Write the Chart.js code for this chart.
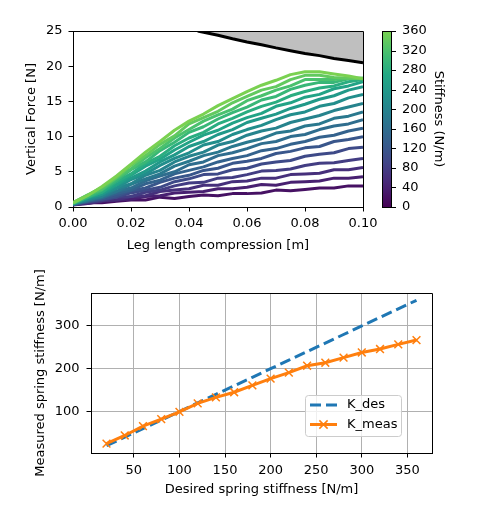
<!DOCTYPE html>
<html><head><meta charset="utf-8">
<script src="https://cdn.jsdelivr.net/npm/chart.js@4/dist/chart.umd.min.js"></script>
<style>
html,body{margin:0;padding:0;background:#fff;width:487px;height:509px;overflow:hidden}
#c1{position:absolute;left:0;top:0}
#c2{position:absolute;left:0;top:260px}
</style></head><body>
<canvas id="c1" width="487" height="260"></canvas>
<canvas id="c2" width="487" height="249"></canvas>
<script>
// ---------- data: top panel ----------
const compression = [0.000,0.005,0.010,0.015,0.020,0.025,0.030,0.035,0.040,0.045,0.050,0.055,0.060,0.065,0.070,0.075,0.080,0.085,0.090,0.095,0.100];
const stiffnessLevels = [20,40,60,80,100,120,140,160,180,200,220,240,260,280,300,320,340,360];
const f20  = [0.3,0.6,0.6,0.8,1.0,1.0,1.4,1.2,1.5,1.7,1.6,1.9,1.9,2.0,2.4,2.3,2.5,2.7,2.7,3.0,3.0];
const f40  = [0.4,0.5,0.8,1.0,1.1,1.5,1.6,2.0,2.1,2.2,2.6,2.6,2.8,3.2,3.1,3.5,3.6,3.7,4.1,4.1,4.3];
const f60  = [0.3,0.5,0.9,1.0,1.5,1.6,2.2,2.4,2.6,3.1,3.1,3.6,3.7,4.1,4.1,4.6,4.7,4.8,5.3,5.3,5.6];
const f80  = [0.3,0.7,0.9,1.4,1.5,2.1,2.4,3.0,3.4,3.5,4.1,4.2,4.6,5.1,5.2,5.4,5.9,6.2,6.3,6.6,6.9];
const f100 = [0.4,0.7,1.1,1.4,2.0,2.4,2.8,3.6,4.0,4.6,4.7,5.3,5.5,6.1,6.4,6.6,7.2,7.5,7.7,8.3,8.5];
const f120 = [0.3,0.8,1.1,1.6,2.3,2.7,3.5,4.1,4.5,5.2,5.5,6.2,6.5,6.9,7.6,7.9,8.4,8.6,9.3,9.6,10.0];
const f140 = [0.4,0.8,1.3,1.9,2.4,3.3,3.8,4.7,5.2,5.7,6.4,6.9,7.3,8.0,8.3,8.9,9.3,9.9,10.2,10.8,11.2];
const f160 = [0.4,1.0,1.3,2.2,2.7,3.7,4.4,5.0,6.0,6.4,7.3,7.7,8.3,9.0,9.3,10.0,10.3,11.0,11.5,11.8,12.4];
const f180 = [0.5,0.9,1.5,2.2,3.2,4.0,4.7,5.8,6.5,7.3,7.8,8.6,9.2,9.7,10.5,10.8,11.5,11.8,12.6,12.9,13.5];
const f200 = [0.4,1.1,1.5,2.6,3.3,4.5,5.2,6.4,7.2,7.8,8.8,9.3,10.2,10.8,11.2,12.0,12.5,13.0,13.7,14.2,14.7];
const f220 = [0.4,1.1,1.8,2.7,3.9,4.7,5.9,6.9,7.7,8.8,9.3,10.3,11.0,11.6,12.4,13.1,13.5,14.3,14.7,15.5,16.0];
const f240 = [0.5,1.3,1.8,3.1,4.1,5.1,6.4,7.4,8.6,9.3,10.3,11.0,12.0,12.6,13.2,14.0,14.6,15.3,15.8,16.6,17.1];
const f260 = [0.5,1.3,2.1,3.2,4.5,5.8,6.8,8.1,9.2,10.2,10.9,11.9,12.7,13.3,14.3,14.8,15.6,16.0,16.8,17.2,17.8];
const f280 = [0.5,1.4,2.1,3.6,4.7,6.2,7.2,8.7,9.8,10.6,11.8,12.6,13.5,14.3,14.9,15.8,16.4,16.9,17.2,17.8,18.1];
const f300 = [0.5,1.4,2.4,3.8,5.3,6.4,8.0,9.2,10.6,11.4,12.5,13.4,14.2,15.2,15.7,16.7,17.3,17.7,17.7,18.2,18.3];
const f320 = [0.6,1.7,2.5,4.1,5.4,7.0,8.3,9.8,11.0,12.2,13.1,13.9,15.1,15.8,16.6,17.2,18.1,18.1,18.1,18.3,18.3];
const f340 = [0.6,1.7,2.8,4.2,5.9,7.3,8.9,10.1,11.8,12.7,13.6,14.8,15.7,16.6,17.1,18.1,18.7,18.7,18.4,18.3,18.2];
const f360 = [0.6,1.6,2.9,4.4,6.1,7.8,9.3,10.9,12.2,13.2,14.4,15.4,16.4,17.3,18.0,18.8,19.2,19.2,18.9,18.6,18.2];
const forceCurves = [f20,f40,f60,f80,f100,f120,f140,f160,f180,f200,f220,f240,f260,f280,f300,f320,f340,f360];
const limitX = [0.043,0.050,0.055,0.060,0.065,0.070,0.075,0.080,0.085,0.090,0.095,0.100];
const limitF = [25.0,24.4,23.9,23.45,23.05,22.6,22.2,21.8,21.5,21.1,20.8,20.5];
const forceTicksStep = 5, compTickStep = 0.02, cbTickStep = 40;

// ---------- data: bottom panel ----------
const desiredK = [20,40,60,80,100,120,140,160,180,200,220,240,260,280,300,320,340,360];
const K_des  = [20,40,60,80,100,120,140,160,180,200,220,240,260,280,300,320,340,360];
const K_meas = [25,44,66,82,99,119,133,145,161,177,191,207,214,226,238,246,257,267];

// ---------- styling helpers ----------
const FONT = {family:'"DejaVu Sans", sans-serif', size:13};
const VIR = ['#440154','#482475','#414487','#355f8d','#2a788e','#21918c','#22a884','#44bf70','#7ad151','#bddf26','#fde725'];
function hex(c){return [parseInt(c.substr(1,2),16),parseInt(c.substr(3,2),16),parseInt(c.substr(5,2),16)];}
function viridis(t){
  t=Math.max(0,Math.min(1,t)); const p=t*10, i=Math.min(9,Math.floor(p)), f=p-i;
  const a=hex(VIR[i]), b=hex(VIR[i+1]);
  return 'rgb('+a.map((v,j)=>Math.round(v+(b[j]-v)*f)).join(',')+')';
}
const CMAX = 0.8; // fraction of viridis used for 0..360
const cmap = k => viridis(k/360*CMAX);

// ---------- top chart ----------
const ds1 = [];
ds1.push({
  label:'limit', data: limitX.map((x,i)=>({x, y:limitF[i]})),
  borderColor:'#000', borderWidth:3, backgroundColor:'#bfbfbf', fill:'end', order:-1, pointRadius:0
});
stiffnessLevels.forEach((k,i)=>{
  ds1.push({label:String(k), data: compression.map((x,j)=>({x, y:forceCurves[i][j]})),
    borderColor:cmap(k), borderWidth:3, fill:false, order:400-k, pointRadius:0,
    borderCapStyle:'butt', borderJoinStyle:'round'});
});

const topDeco = {
  id:'topDeco',
  afterDraw(chart){
    const {ctx, chartArea:a} = chart; const cb = chart.scales.cb;
    ctx.save();
    ctx.strokeStyle='#000'; ctx.lineWidth=1;
    ctx.beginPath();
    ctx.moveTo(Math.round(a.left)+0.5, Math.round(a.top)+0.5);
    ctx.lineTo(Math.round(a.right)+0.5, Math.round(a.top)+0.5);
    ctx.lineTo(Math.round(a.right)+0.5, Math.round(a.bottom)+0.5);
    ctx.stroke();
    // colorbar
    const x0 = Math.round(a.right)+19, w = 9;
    const yT = cb.getPixelForValue(360), yB = cb.getPixelForValue(0);
    const g = ctx.createLinearGradient(0,yB,0,yT);
    for(let s=0;s<=20;s++){ g.addColorStop(s/20, viridis(s/20*CMAX)); }
    ctx.fillStyle=g; ctx.fillRect(x0,yT,w,yB-yT);
    ctx.strokeRect(x0+0.5, Math.round(yT)+0.5, w, Math.round(yB-yT));
    for(let v=0; v<=360; v+=cbTickStep){
      const y = Math.round(cb.getPixelForValue(v))+0.5;
      ctx.beginPath(); ctx.moveTo(x0+w, y); ctx.lineTo(x0+w+5, y); ctx.stroke();
    }
    ctx.restore();
  }
};

new Chart(document.getElementById('c1'), {
  type:'line',
  data:{datasets:ds1},
  options:{
    responsive:false, animation:false, devicePixelRatio:1,
    layout:{padding:{top:31,left:0,right:0,bottom:0}},
    plugins:{legend:{display:false}, tooltip:{enabled:false}},
    elements:{point:{radius:0}, line:{tension:0}},
    scales:{
      x:{type:'linear', min:0, max:0.1,
        ticks:{stepSize:compTickStep, callback:v=>v.toFixed(2), color:'#000', font:FONT, padding:4, maxRotation:0},
        grid:{display:true, drawOnChartArea:false, drawTicks:true, tickLength:4.5, color:'#000', tickColor:'#000'},
        border:{display:true, color:'#000', width:1},
        title:{display:true, text:'Leg length compression [m]', color:'#000', font:FONT, padding:{top:0,bottom:7}},
        afterFit(s){s.height=53;}},
      y:{type:'linear', min:0, max:25,
        ticks:{stepSize:forceTicksStep, color:'#000', font:FONT, padding:6},
        grid:{display:true, drawOnChartArea:false, drawTicks:true, tickLength:4.5, color:'#000', tickColor:'#000'},
        border:{display:true, color:'#000', width:1},
        title:{display:true, text:'Vertical Force [N]', color:'#000', font:FONT, padding:{top:23.5,bottom:0}},
        afterFit(s){s.width=73;}},
      cb:{type:'linear', position:'right', min:0, max:360,
        ticks:{stepSize:cbTickStep, autoSkip:false, color:'#000', font:FONT, padding:3},
        grid:{display:true, drawOnChartArea:false, drawTicks:true, tickLength:36, color:'rgba(0,0,0,0)', tickColor:'rgba(0,0,0,0)'},
        border:{display:false},
        title:{display:true, text:'Stiffness (N/m)', color:'#000', font:FONT, padding:{top:41,bottom:0}},
        afterFit(s){s.width=124;}}
    }
  },
  plugins:[topDeco]
});

// ---------- bottom chart ----------
const legendBox = {
  id:'legendBox',
  afterDraw(chart){
    const {ctx, chartArea:a} = chart;
    const bx = a.right-127, by = a.bottom-58, bw = 96, bh = 41;
    ctx.save();
    ctx.fillStyle='rgba(255,255,255,0.8)'; ctx.strokeStyle='#cccccc'; ctx.lineWidth=1;
    ctx.beginPath(); ctx.roundRect(bx+0.5,by+0.5,bw,bh,3); ctx.fill(); ctx.stroke();
    const ds = chart.data.datasets;
    const rows = [ds[1], ds[0]];
    rows.forEach((d,i)=>{
      const y = by+10+i*19.5, x1 = bx+5, x2 = bx+32;
      ctx.strokeStyle=d.borderColor; ctx.lineWidth=d.borderWidth;
      ctx.setLineDash(d.borderDash||[]);
      ctx.beginPath(); ctx.moveTo(x1,y); ctx.lineTo(x2,y); ctx.stroke();
      ctx.setLineDash([]);
      if(d.pointStyle==='crossRot'){
        const r=d.pointRadius, c=(x1+x2)/2; ctx.lineWidth=d.pointBorderWidth;
        ctx.beginPath(); ctx.moveTo(c-r*0.75,y-r*0.75); ctx.lineTo(c+r*0.75,y+r*0.75);
        ctx.moveTo(c-r*0.75,y+r*0.75); ctx.lineTo(c+r*0.75,y-r*0.75); ctx.stroke();
      }
      ctx.fillStyle='#000'; ctx.font='13px "DejaVu Sans", sans-serif'; ctx.textBaseline='middle';
      ctx.fillText(d.label, bx+42, y);
    });
    ctx.restore();
  }
};
const frame2 = {
  id:'frame2',
  afterDraw(chart){
    const {ctx, chartArea:a} = chart;
    ctx.save(); ctx.strokeStyle='#000'; ctx.lineWidth=1;
    ctx.beginPath();
    ctx.moveTo(Math.round(a.left)+0.5, Math.round(a.top)+0.5);
    ctx.lineTo(Math.round(a.right)+0.5, Math.round(a.top)+0.5);
    ctx.lineTo(Math.round(a.right)+0.5, Math.round(a.bottom)+0.5);
    ctx.stroke(); ctx.restore();
  }
};

new Chart(document.getElementById('c2'), {
  type:'line',
  data:{datasets:[
    {label:'K_meas', data: desiredK.map((x,i)=>({x, y:K_meas[i]})), borderColor:'#ff7f0e', backgroundColor:'#ff7f0e',
      borderWidth:3, pointStyle:'crossRot', pointRadius:5.5, pointBorderWidth:1.5, pointBorderColor:'#ff7f0e', order:0, fill:false},
    {label:'K_des', data: desiredK.map((x,i)=>({x, y:K_des[i]})), borderColor:'#1f77b4', borderWidth:3, borderDash:[11,5],
      pointRadius:0, order:1, fill:false}
  ]},
  options:{
    responsive:false, animation:false, devicePixelRatio:1,
    layout:{padding:{top:33,left:0,right:55,bottom:0}},
    plugins:{legend:{display:false}, tooltip:{enabled:false}},
    elements:{line:{tension:0}},
    scales:{
      x:{type:'linear', min:3, max:377,
        ticks:{stepSize:50, includeBounds:false, color:'#000', font:FONT, padding:5, maxRotation:0},
        grid:{display:true, drawOnChartArea:true, drawTicks:true, tickLength:4.5, color:'#b0b0b0', lineWidth:1, tickColor:'#000'},
        border:{display:true, color:'#000', width:1},
        title:{display:true, text:'Desired spring stiffness [N/m]', color:'#000', font:FONT, padding:{top:0,bottom:12}},
        afterFit(s){s.height=56;}},
      y:{type:'linear', min:3, max:377,
        ticks:{stepSize:100, includeBounds:false, color:'#000', font:FONT, padding:7},
        grid:{display:true, drawOnChartArea:true, drawTicks:true, tickLength:4.5, color:'#b0b0b0', lineWidth:1, tickColor:'#000'},
        border:{display:true, color:'#000', width:1},
        title:{display:true, text:'Measured spring stiffness [N/m]', color:'#000', font:FONT, padding:{top:33,bottom:0}},
        afterFit(s){s.width=91;}}
    }
  },
  plugins:[frame2, legendBox]
});
</script>
</body></html>
